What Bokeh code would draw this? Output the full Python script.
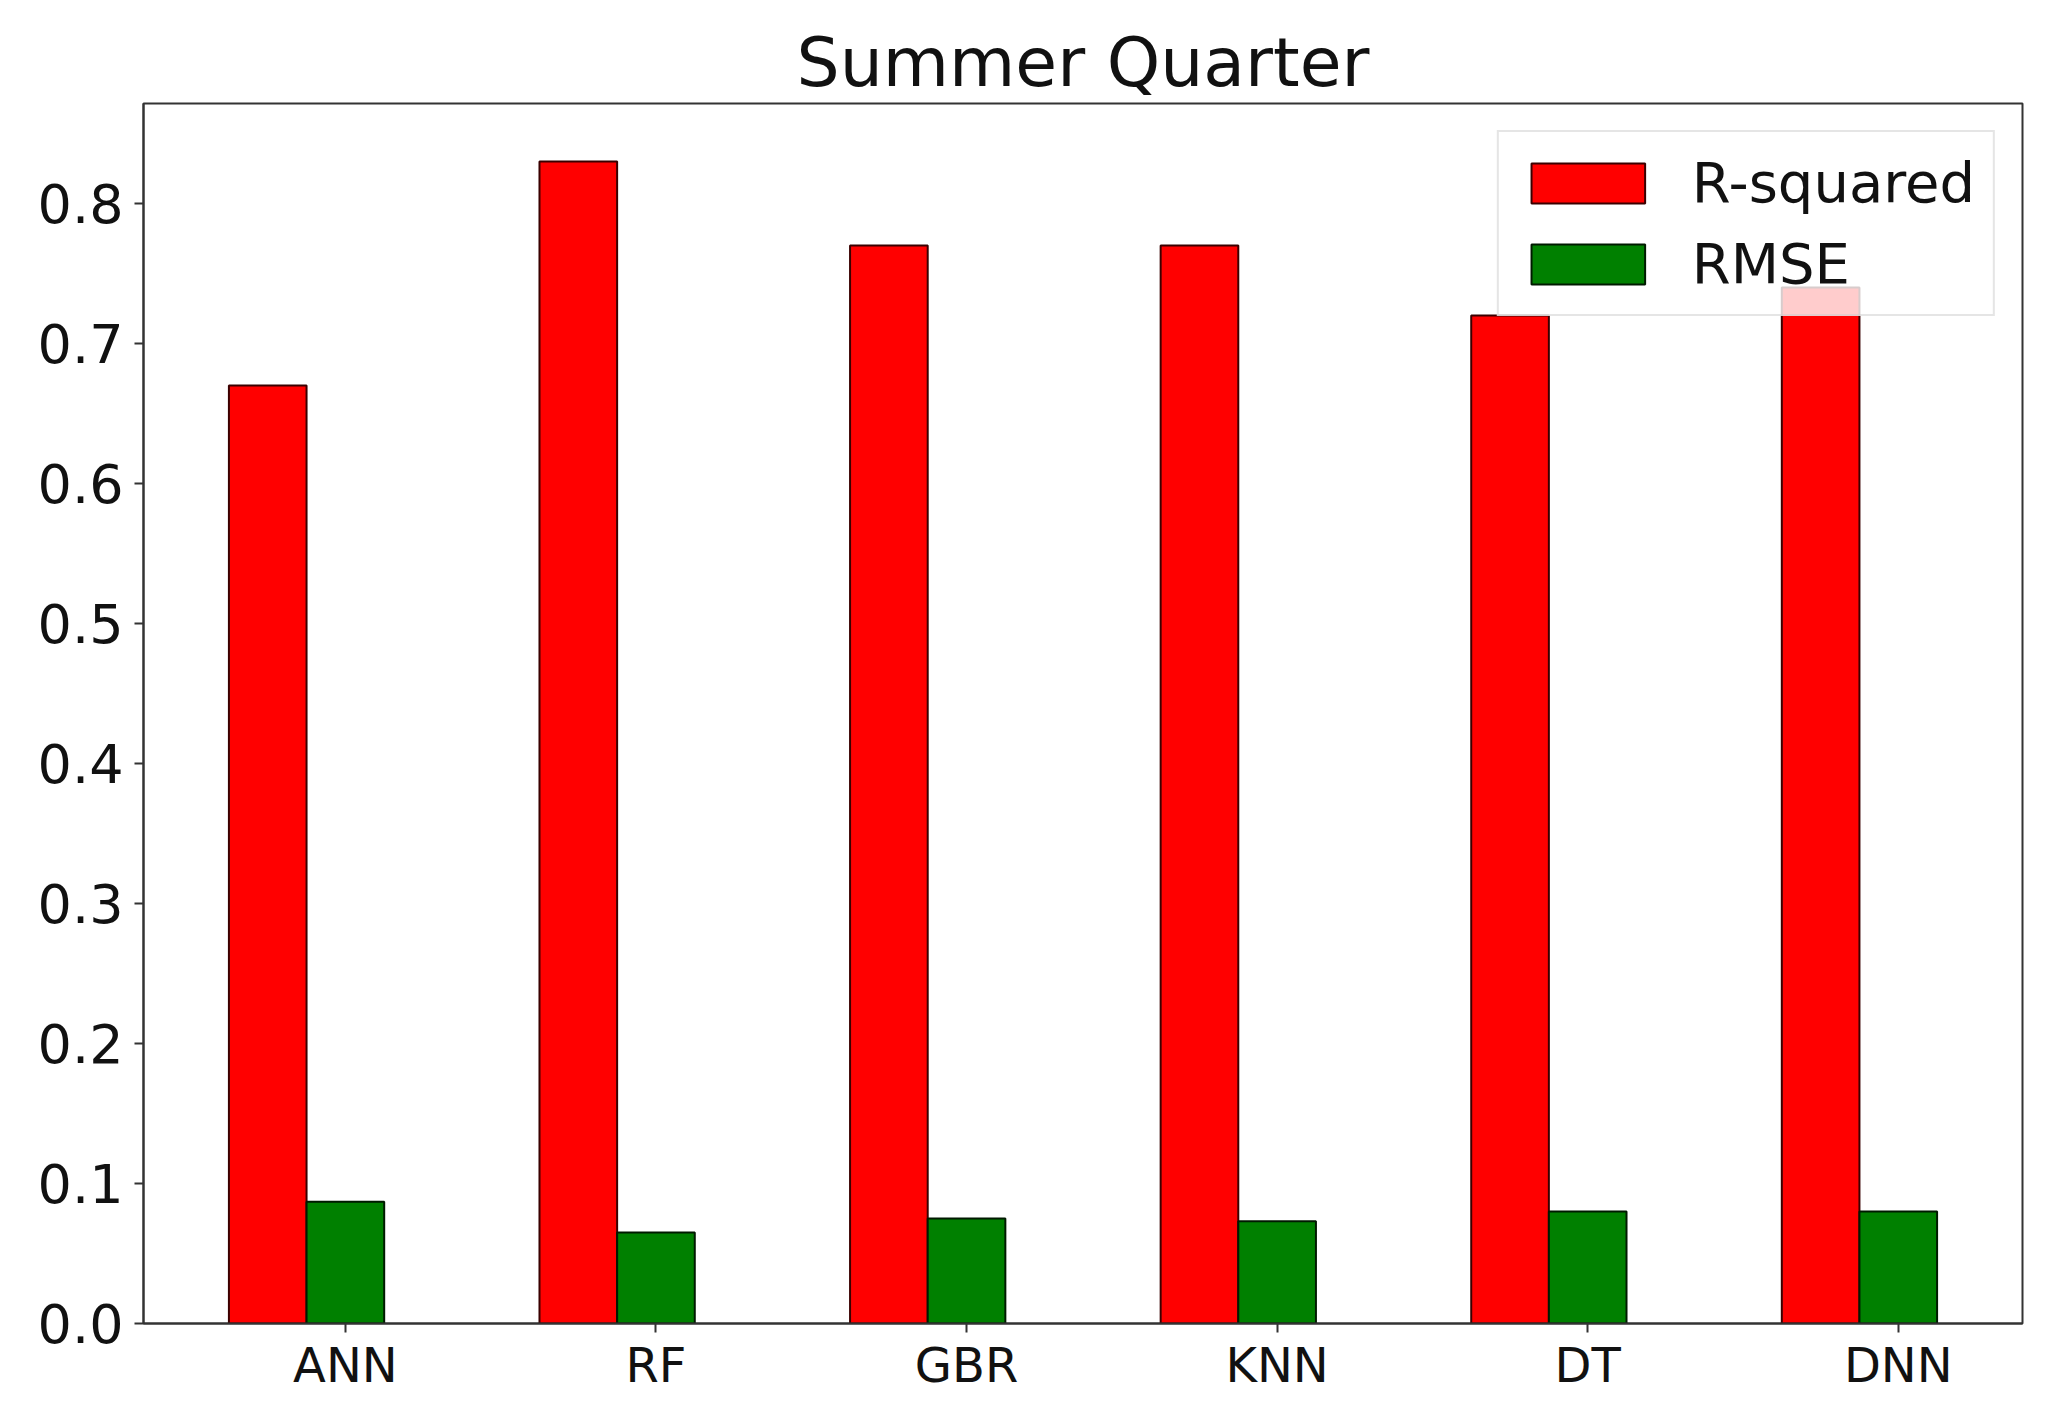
from bokeh.plotting import figure
from bokeh.models import Range1d, FixedTicker, Legend, LegendItem, ColumnDataSource
from bokeh.embed import file_html
from bokeh.resources import INLINE

models = ["ANN", "RF", "GBR", "KNN", "DT", "DNN"]
r_squared = [0.67, 0.83, 0.77, 0.77, 0.72, 0.74]
rmse = [0.087, 0.065, 0.075, 0.073, 0.080, 0.080]
y_ticks = [0.0, 0.1, 0.2, 0.3, 0.4, 0.5, 0.6, 0.7, 0.8]

bar_w = 0.25
idx = list(range(len(models)))
src_r = ColumnDataSource(dict(x=idx, top=r_squared))
src_g = ColumnDataSource(dict(x=[i + bar_w for i in idx], top=rmse))

FONT = "DejaVu Sans"

p = figure(width=2052, height=1397, output_backend="svg", toolbar_location=None,
           x_range=Range1d(-0.4, 5.65), y_range=Range1d(0, 0.8715),
           min_border_left=143, min_border_right=30, min_border_top=103, min_border_bottom=74,
           title="Summer Quarter")

p.title.text_font = FONT
p.title.text_font_size = "68px"
p.title.text_font_style = "normal"
p.title.align = "center"
p.title.text_color = "#111111"
p.title.standoff = 4

rb = p.vbar(x="x", top="top", width=bar_w, source=src_r, fill_color="#ff0000",
            line_color="#3a0000", line_width=2)
gb = p.vbar(x="x", top="top", width=bar_w, source=src_g, fill_color="#008000",
            line_color="#001a00", line_width=2)

p.grid.visible = False
p.background_fill_color = "white"
p.outline_line_color = "#333333"
p.outline_line_width = 2

p.xaxis.ticker = FixedTicker(ticks=[i + bar_w for i in idx])
p.xaxis.major_label_overrides = {i + bar_w: m for i, m in zip(idx, models)}
p.yaxis.ticker = FixedTicker(ticks=y_ticks)
p.yaxis.major_label_overrides = {t: f"{t:.1f}" for t in y_ticks}

for ax in (p.xaxis[0], p.yaxis[0]):
    ax.axis_line_color = "#333333"
    ax.axis_line_width = 2
    ax.major_tick_line_color = "#333333"
    ax.major_tick_line_width = 2
    ax.major_tick_in = 0
    ax.major_tick_out = 9
    ax.minor_tick_line_color = None
    ax.major_label_text_font = FONT
    ax.major_label_text_color = "#111111"

p.xaxis.major_label_text_font_size = "48px"
p.yaxis.major_label_text_font_size = "54px"
p.xaxis.major_label_standoff = 4
p.yaxis.major_label_standoff = 11

legend = Legend(items=[LegendItem(label="R-squared", renderers=[rb]),
                       LegendItem(label="RMSE", renderers=[gb])],
                location="top_right")
legend.label_text_font = FONT
legend.label_text_font_size = "56px"
legend.label_text_color = "#111111"
legend.glyph_width = 142
legend.glyph_height = 50
legend.label_standoff = 33
legend.padding = 18
legend.spacing = 16
legend.margin = 27
legend.border_line_color = "#cccccc"
legend.border_line_width = 2
legend.background_fill_alpha = 0.8
p.add_layout(legend)

open("out.html", "w").write(file_html(p, INLINE))
